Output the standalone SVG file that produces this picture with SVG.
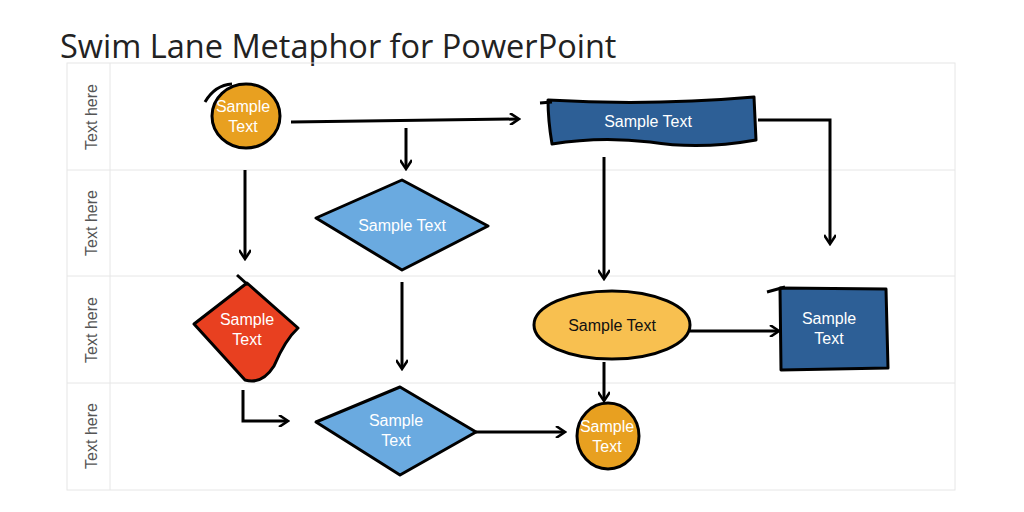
<svg xmlns="http://www.w3.org/2000/svg" width="1024" height="512" viewBox="0 0 1024 512">
<style>
.ln{stroke:#e6e6e6;stroke-width:1;fill:none}
.lab{font-family:"Liberation Sans",Arial,sans-serif;font-size:16px;fill:#555}
.sh{stroke:#000;stroke-width:3;stroke-linejoin:round}
.t{font-family:"Liberation Sans",Arial,sans-serif;font-size:16px;text-anchor:middle}
.w{fill:#fff}
.c{stroke:#000;stroke-width:3;fill:none;marker-end:url(#a)}
</style>
<defs>
<marker id="a" markerWidth="12" markerHeight="12" refX="9" refY="6" orient="auto" markerUnits="userSpaceOnUse" viewBox="0 0 12 12">
<path d="M1 0 L10 6 L1 12" fill="none" stroke="#000" stroke-width="2.6"/>
</marker>
</defs>
<rect width="1024" height="512" fill="#fff"/>
<text x="60" y="58" font-family="Open Sans,Liberation Sans,sans-serif" font-size="32.5" fill="#222">Swim Lane Metaphor for PowerPoint</text>
<g id="lanes">
<rect class="ln" x="67" y="63" width="888" height="427"/>
<line class="ln" x1="110" y1="63" x2="110" y2="490"/>
<line class="ln" x1="67" y1="170" x2="955" y2="170"/>
<line class="ln" x1="67" y1="276" x2="955" y2="276"/>
<line class="ln" x1="67" y1="383" x2="955" y2="383"/>
<text class="lab" transform="translate(97,117) rotate(-90)" text-anchor="middle">Text here</text>
<text class="lab" transform="translate(97,223) rotate(-90)" text-anchor="middle">Text here</text>
<text class="lab" transform="translate(97,330) rotate(-90)" text-anchor="middle">Text here</text>
<text class="lab" transform="translate(97,436) rotate(-90)" text-anchor="middle">Text here</text>
</g>
<g id="connectors">
<path class="c" d="M291 122 L518 119"/>
<path class="c" d="M406 128 L406 168"/>
<path class="c" d="M245 170 L245 258"/>
<path class="c" d="M758 120 L830 120 L830 243"/>
<path class="c" d="M604 157 L604 278"/>
<path class="c" d="M402 282 L402 368"/>
<path class="c" d="M690 331 L778 331"/>
<path class="c" d="M604 362 L604 400"/>
<path class="c" d="M243 390 L243 421 L287 421"/>
<path class="c" d="M476 432 L564 432"/>
</g>
<g id="n1"><ellipse class="sh" cx="246" cy="116" rx="34" ry="32" fill="#E8A020"/><path d="M205 102 Q215 85 232 84" class="sh" fill="none" stroke-width="2"/><text class="t w" x="243" y="112">Sample</text><text class="t w" x="243" y="132">Text</text></g>
<g id="n2"><path class="sh" fill="#2D5F96" d="M548 100 Q650 106 754 97 L756 140 Q700 150 650 142 Q600 136 552 144 Q548 120 548 100 Z"/><path d="M540 103 L552 102" class="sh"/><text class="t w" x="648" y="127">Sample Text</text></g>
<g id="n3"><path class="sh" fill="#6AAAE0" d="M316 218 L402 180 L488 226 L402 270 Z"/><text class="t w" x="402" y="231">Sample Text</text></g>
<g id="n4"><path class="sh" fill="#E84020" d="M247 283 L298 328 Q285 340 274 366 Q262 385 245 380 L194 324 Z"/><path d="M237 275 L248 285" class="sh"/><text class="t w" x="247" y="325">Sample</text><text class="t w" x="247" y="345">Text</text></g>
<g id="n5"><ellipse class="sh" cx="612" cy="325" rx="78" ry="34" fill="#F8C050"/><text class="t" x="612" y="331" fill="#111">Sample Text</text></g>
<g id="n6"><path class="sh" fill="#2D5F96" d="M780 288 L886 289 L888 368 L781 370 Z"/><path d="M767 292 L785 287" class="sh"/><text class="t w" x="829" y="324">Sample</text><text class="t w" x="829" y="344">Text</text></g>
<g id="n7"><path class="sh" fill="#6AAAE0" d="M316 422 L400 387 L476 432 L400 475 Z"/><text class="t w" x="396" y="426">Sample</text><text class="t w" x="396" y="446">Text</text></g>
<g id="n8"><ellipse class="sh" cx="608" cy="436" rx="31" ry="33" fill="#E8A020"/><text class="t w" x="607" y="432">Sample</text><text class="t w" x="607" y="452">Text</text></g>
</svg>
